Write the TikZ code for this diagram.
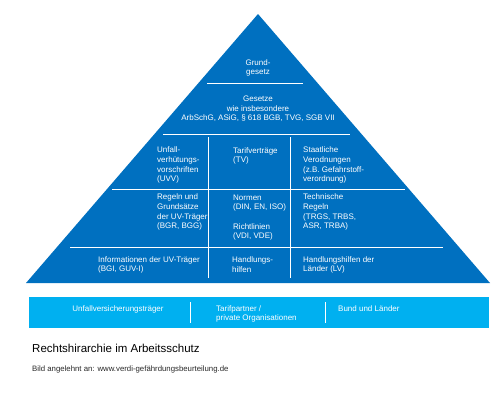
\documentclass[tikz,border=0pt]{standalone}
\usepackage{fontspec}
\setmainfont{Liberation Sans}
\definecolor{pyr}{RGB}{0,112,192}
\definecolor{barc}{RGB}{0,176,240}
\definecolor{credit}{RGB}{40,40,40}
\begin{document}
\begin{tikzpicture}[x=1pt,y=-1pt,
  sep/.style={draw=white,line width=0.9pt},
  cell/.style={font=\fontsize{8}{9.6}\selectfont,text=white,align=left,anchor=west,inner sep=0pt},
  ccell/.style={font=\fontsize{8}{9.6}\selectfont,text=white,align=center,anchor=center,inner sep=0pt}]
\useasboundingbox[fill=white] (0,0) rectangle (500,400);
% pyramid
\fill[pyr] (258,14) -- (490,283) -- (26,283) -- cycle;
\draw[sep] (207,83) -- (303,83);
\draw[sep] (163,134) -- (350,134);
\draw[sep] (112,189) -- (405,189);
\draw[sep] (70,247) -- (443,247);
\draw[sep] (208,137) -- (208,278);
\draw[sep] (290,137) -- (290,278);
% texts
\node[ccell] (gg) at (258,68) {Grund-\\gesetz};
\node[ccell] (gs) at (258,109) {Gesetze\\wie insbesondere\\ArbSchG, ASiG, § 618 BGB, TVG, SGB VII};
\node[cell] (uvv) at (157,165.3) {Unfall-\\verhütungs-\\vorschriften\\(UVV)};
\node[cell] (tv) at (233,155.8) {Tarifverträge\\(TV)};
\node[cell] (sv) at (303,165.3) {Staatliche\\Verodnungen\\(z.B. Gefahrstoff-\\verordnung)};
\node[cell] (rg) at (157,212.3) {Regeln und\\Grundsätze\\der UV-Träger\\(BGR, BGG)};
\node[cell] (nr) at (233,217.5) {Normen\\(DIN, EN, ISO)\\[9.6pt]Richtlinien\\(VDI, VDE)};
\node[cell] (tr) at (303,212.3) {Technische\\Regeln\\(TRGS, TRBS,\\ASR, TRBA)};
\node[cell] (inf) at (98,264.8) {Informationen der UV-Träger\\(BGI, GUV-I)};
\node[cell] (hh) at (232,264.8) {Handlungs-\\hilfen};
\node[cell] (hl) at (303,264.8) {Handlungshilfen der\\Länder (LV)};
% bar
\fill[barc] (29,297) rectangle (489,328);
\draw[sep] (190,302) -- (190,323);
\draw[sep] (325,302) -- (325,323);
\node[ccell] (b1) at (118,309) {Unfallversicherungsträger};
\node[cell] (b2) at (216,313.8) {Tarifpartner /\\private Organisationen};
\node[cell] (b3) at (338,309) {Bund und Länder};
% captions
\node[anchor=west,inner sep=0pt,font=\fontsize{11.5}{14}\selectfont] (title) at (32,348) {Rechtshirarchie im Arbeitsschutz};
\node[anchor=west,inner sep=0pt,font=\fontsize{7.8}{9}\selectfont,text=credit] (cred) at (32,369) {Bild angelehnt an: www.verdi-gefährdungsbeurteilung.de};
\end{tikzpicture}
\end{document}
